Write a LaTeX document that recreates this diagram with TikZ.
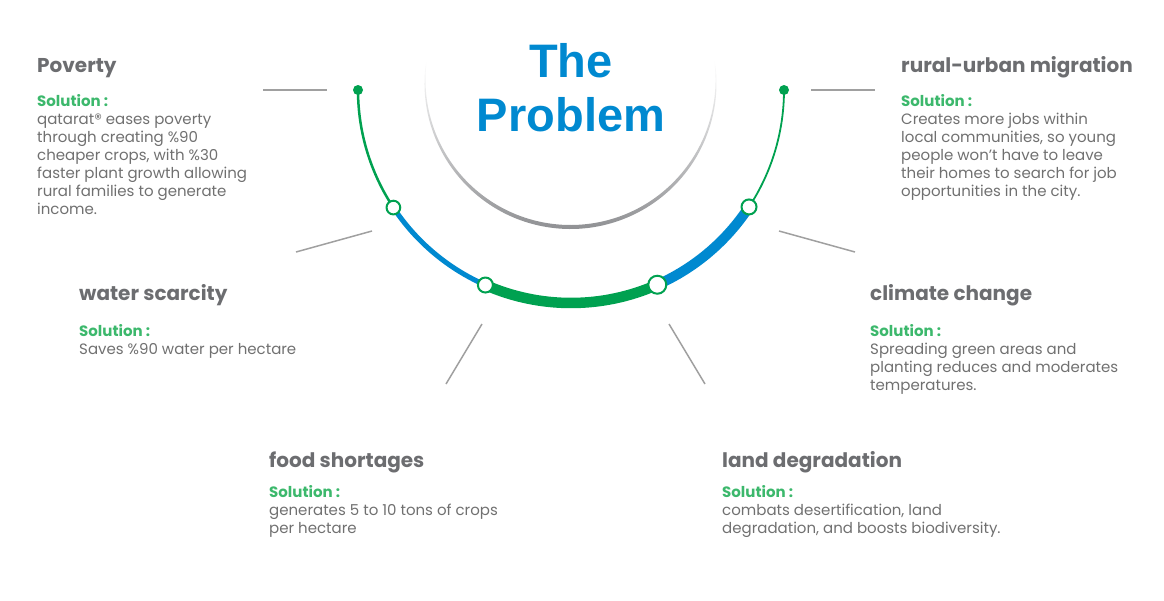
\documentclass[tikz,border=0pt]{standalone}
\usepackage{fontspec}
\setmainfont{Poppins}
\newfontfamily\headfont{Poppins}
\newfontfamily\titlefont{Liberation Sans}
\usetikzlibrary{positioning}

\definecolor{probblue}{RGB}{0,137,208}
\definecolor{arcgreen}{RGB}{0,161,80}
\definecolor{solgreen}{RGB}{60,184,108}
\definecolor{headgray}{RGB}{108,109,112}
\definecolor{bodygray}{RGB}{112,112,112}
\definecolor{tickgray}{RGB}{160,160,160}
\definecolor{bowlgray}{RGB}{140,141,144}

\tikzset{
  head/.style={font=\headfont\fontsize{20}{24}\selectfont\bfseries, text=headgray, anchor=base west, inner sep=0pt},
  body/.style={font=\fontsize{15}{18}\selectfont, text=bodygray, anchor=north west, align=left, inner sep=0pt},
  titletext/.style={font=\titlefont\fontsize{47}{54}\selectfont\bfseries, text=probblue, anchor=base, inner sep=0pt},
  tick/.style={draw=tickgray, line width=1.5pt},
  ring/.style={circle, draw=arcgreen, fill=white, line width=2pt, inner sep=0pt},
  enddot/.style={circle, fill=arcgreen, inner sep=0pt, minimum size=10pt}
}
\newcommand{\soltag}{{\headfont\fontsize{15}{18}\selectfont\color{solgreen}\bfseries Solution :}}

\begin{document}
\begin{tikzpicture}[x=1pt,y=1pt]
\useasboundingbox (0,0) rectangle (1164,-600);

% grey bowl under the title
\coordinate (bowl) at (570.5,-83);
\shade[top color=white, bottom color=bowlgray] (bowl) ++(172:146)
  arc[start angle=172, end angle=368, radius=146]
  -- ([shift={(368:145)}]570.5,-80)
  arc[start angle=368, end angle=172, radius=145] -- cycle;

\node[titletext] (titleA) at (571,-77) {The};
\node[titletext] (titleB) at (571,-131) {Problem};

% the coloured half ring
\coordinate (ctr) at (571,-90);
\draw[arcgreen, line width=2.5pt] (ctr) ++(180:213) arc[start angle=180, end angle=213.5, radius=213];
\draw[probblue, line width=5pt] (ctr) ++(213.5:213) arc[start angle=213.5, end angle=246.3, radius=213];
\draw[arcgreen, line width=10.5pt] (ctr) ++(246.3:213) arc[start angle=246.3, end angle=293.9, radius=213];
\draw[probblue, line width=10pt] (ctr) ++(293.9:213) arc[start angle=293.9, end angle=326.7, radius=213];
\draw[arcgreen, line width=1.8pt] (ctr) ++(326.7:213) arc[start angle=326.7, end angle=360, radius=213];

\node[enddot] (dotL) at ([shift={(180:213)}]ctr) {};
\node[enddot] (dotR) at ([shift={(0:213)}]ctr) {};
\node[ring, minimum size=13.7pt] (ringA) at ([shift={(213.5:213)}]ctr) {};
\node[ring, minimum size=15pt] (ringB) at ([shift={(246.3:213)}]ctr) {};
\node[ring, minimum size=18pt] (ringC) at ([shift={(293.9:213)}]ctr) {};
\node[ring, minimum size=15pt] (ringD) at ([shift={(326.7:213)}]ctr) {};

% little grey ticks
\coordinate (povA) at (263,-90);  \coordinate (povB) at (327,-90);
\coordinate (rurA) at (811,-90);  \coordinate (rurB) at (875,-90);
\coordinate (watA) at (296,-252); \coordinate (watB) at (372,-231);
\coordinate (cliA) at (779,-231); \coordinate (cliB) at (855,-252);
\coordinate (fooA) at (446,-384); \coordinate (fooB) at (482,-324);
\coordinate (lanA) at (669,-324); \coordinate (lanB) at (705,-384);
\draw[tick] (povA) -- (povB);
\draw[tick] (rurA) -- (rurB);
\draw[tick] (watA) -- (watB);
\draw[tick] (cliA) -- (cliB);
\draw[tick] (fooA) -- (fooB);
\draw[tick] (lanA) -- (lanB);

% the six problems
\node[head] (povhead) at (37,-72) {Poverty};
\node[body] (povtext) at (37,-94) {\soltag\\qatarat® eases poverty\\through creating \%90\\cheaper crops, with \%30\\faster plant growth allowing\\rural families to generate\\income.};

\node[head] (rurhead) at (901,-72) {rural-urban migration};
\node[body] (rurtext) at (901,-94) {\soltag\\Creates more jobs within\\local communities, so young\\people won't have to leave\\their homes to search for job\\opportunities in the city.};

\node[head] (wathead) at (79,-300) {water scarcity};
\node[body] (wattext) at (79,-324) {\soltag\\Saves \%90 water per hectare};

\node[head] (clihead) at (870,-300) {climate change};
\node[body] (clitext) at (870,-324) {\soltag\\Spreading green areas and\\planting reduces and moderates\\temperatures.};

\node[head] (foohead) at (269,-467) {food shortages};
\node[body] (footext) at (269,-485) {\soltag\\generates 5 to 10 tons of crops\\per hectare};

\node[head] (lanhead) at (722,-467) {land degradation};
\node[body] (lantext) at (722,-485) {\soltag\\combats desertification, land\\degradation, and boosts biodiversity.};
\end{tikzpicture}
\end{document}
